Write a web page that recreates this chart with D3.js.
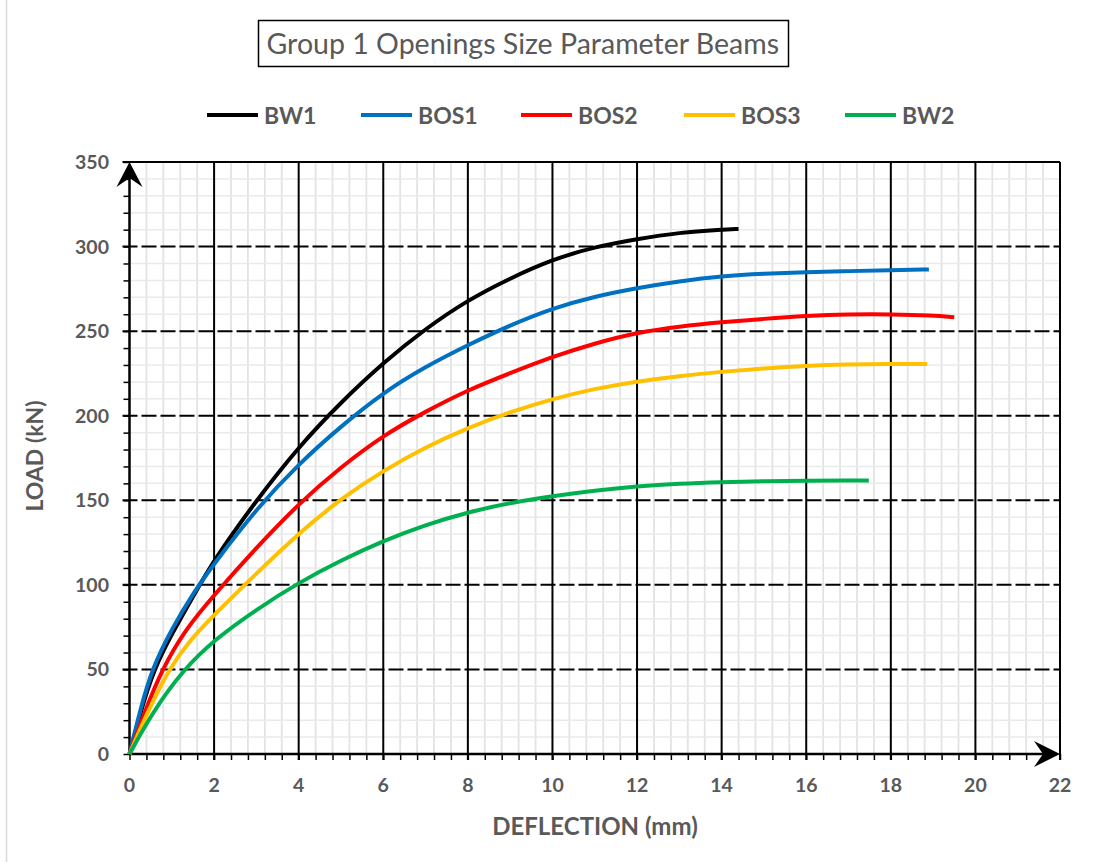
<!DOCTYPE html>
<html>
<head>
<meta charset="utf-8">
<script src="https://cdn.jsdelivr.net/npm/d3@7"></script>
<style>
  html, body { margin: 0; padding: 0; background: #fff; }
  svg { display: block; }
  text { font-family: Lato, "Open Sans", sans-serif; }
</style>
</head>
<body>
<svg id="chart" width="1099" height="862"></svg>
<script>
// Load–deflection curves, [deflection (mm), load (kN)]
const bw1 = [[0,0],[0.25,24],[0.575,50],[1,71],[1.5,93],[2,115],[3,150],[4,181.7],[5,208],[6,231.4],[7,251.5],[8,268.4],[9,281.3],[10,292.4],[11,299.8],[12,304.5],[13,308.3],[14,310],[14.4,310.4]];
const bos1 = [[0,0],[0.24,25],[0.54,51],[1,74],[1.5,95],[2,112.5],[3,145],[4,171.5],[5,193.8],[6,213.7],[7,229],[8,241.8],[9,253.5],[10,263.5],[11,270.5],[12,275.5],[13,279.5],[14,282.6],[15,284],[16,284.8],[17,285.5],[18,286.1],[18.9,286.5]];
const bos2 = [[0,0],[0.36,25],[0.77,50],[1.3,73],[2,94],[3,122],[4,148],[5,169.7],[6,188.4],[7,202.5],[8,215.2],[9,225.2],[10,234.9],[11,242.8],[12,249.2],[13,252.8],[14,255.3],[15,257.3],[16,259],[17,260],[18,260],[19,259.3],[19.5,258.2]];
const bos3 = [[0,0],[0.43,25],[0.93,50],[1.4,66.5],[2,82.2],[3,106.8],[4,130.5],[5,151],[6,167.5],[7,181.5],[8,192.9],[9,202.2],[10,209.9],[11,216],[12,220.3],[13,223.5],[14,226],[15,228],[16,229.6],[17,230.3],[18,230.6],[18.86,230.6]];
const bw2 = [[0,0],[0.55,25],[1.28,50],[2,67.4],[3,85.5],[4,101.3],[5,114.5],[6,126],[7,135.5],[8,143],[9,148.5],[10,152.5],[11,155.8],[12,158.3],[13,159.9],[14,160.8],[15,161.3],[16,161.6],[17,161.7],[17.48,161.7]];

const seriesNames = ["BW1", "BOS1", "BOS2", "BOS3", "BW2"];
const seriesData = [bw1, bos1, bos2, bos3, bw2];
const seriesColors = ["#000000", "#0070C0", "#FF0000", "#FFC000", "#00B050"];

const xTicks = [0, 2, 4, 6, 8, 10, 12, 14, 16, 18, 20, 22];
const yTicks = [0, 50, 100, 150, 200, 250, 300, 350];

const titleText = "Group 1 Openings Size Parameter Beams";
const xTitle = "DEFLECTION (mm)";
const yTitle = "LOAD (kN)";

const svg = d3.select("#chart");
const grey = "#595959";

// plot frame
const pL = 129.5, pR = 1060, pT = 162, pB = 754;
const x = d3.scaleLinear().domain([0, 22]).range([pL, pR]);
const y = d3.scaleLinear().domain([0, 350]).range([pB, pT]);

// outer chart border (left edge visible)
svg.append("line").attr("x1", 6.5).attr("x2", 6.5).attr("y1", 0).attr("y2", 862)
  .attr("stroke", "#d9d9d9").attr("stroke-width", 1.5);

// minor grid
const xMinor = d3.range(0, 22.001, 0.4).filter(v => Math.abs(v / 2 - Math.round(v / 2)) > 1e-6);
const yMinor = d3.range(0, 350.001, 10).filter(v => v % 50 !== 0);
const grid = svg.append("g");
grid.selectAll(".xm").data(xMinor).join("line")
  .attr("x1", d => x(d)).attr("x2", d => x(d)).attr("y1", pT).attr("y2", pB)
  .attr("stroke", "#e3e3e3").attr("stroke-width", 1.8);
grid.selectAll(".ym").data(yMinor).join("line")
  .attr("x1", pL).attr("x2", pR).attr("y1", d => y(d)).attr("y2", d => y(d))
  .attr("stroke", "#eaeaea").attr("stroke-width", 1.5);

// major grid: dashed horizontals, solid verticals
grid.selectAll(".yM").data(yTicks.filter(v => v > 0 && v < 350)).join("line")
  .attr("x1", pL - 7).attr("x2", pR).attr("y1", d => y(d)).attr("y2", d => y(d))
  .attr("stroke", "#000").attr("stroke-width", 2).attr("stroke-dasharray", "15,4");
grid.append("line").attr("x1", pL - 7).attr("x2", pR).attr("y1", y(350)).attr("y2", y(350))
  .attr("stroke", "#000").attr("stroke-width", 2);
grid.selectAll(".xM").data(xTicks.filter(v => v > 0)).join("line")
  .attr("x1", d => x(d)).attr("x2", d => x(d)).attr("y1", pT).attr("y2", pB + 6)
  .attr("stroke", "#000").attr("stroke-width", 2);

// axes with minor ticks
const xAxis = d3.axisBottom(x).tickValues(d3.range(0, 22.001, 0.4)).tickSize(6).tickFormat("");
const gx = svg.append("g").attr("transform", `translate(0,${pB})`).call(xAxis);
gx.select(".domain").remove();
gx.selectAll(".tick line").attr("stroke", "#000").attr("stroke-width", 1.5);

const yAxis = d3.axisLeft(y).tickValues(d3.range(0, 350.001, 10)).tickSize(6).tickFormat("");
const gy = svg.append("g").attr("transform", `translate(${pL},0)`).call(yAxis);
gy.select(".domain").remove();
gy.selectAll(".tick line").attr("stroke", "#000").attr("stroke-width", 1.5);

// tick labels
svg.append("g").selectAll("text").data(xTicks).join("text")
  .attr("x", d => x(d)).attr("y", pB + 38).attr("text-anchor", "middle")
  .attr("font-size", 19.5).attr("font-weight", 700).attr("fill", grey).text(d => d);
svg.append("g").selectAll("text").data(yTicks).join("text")
  .attr("x", 109).attr("y", d => y(d) + 7).attr("text-anchor", "end")
  .attr("font-size", 19.5).attr("font-weight", 700).attr("fill", grey).text(d => d);

// axis lines with arrowheads
svg.append("line").attr("x1", pL).attr("x2", pR - 8).attr("y1", pB).attr("y2", pB)
  .attr("stroke", "#000").attr("stroke-width", 2.5);
svg.append("line").attr("x1", pL).attr("x2", pL).attr("y1", pB).attr("y2", pT + 8)
  .attr("stroke", "#000").attr("stroke-width", 2.5);
svg.append("path")
  .attr("d", `M${pR},${pB} L${pR - 26},${pB - 13} L${pR - 17},${pB} L${pR - 26},${pB + 13} Z`)
  .attr("fill", "#000");
svg.append("path")
  .attr("d", `M${pL},${pT} L${pL - 13},${pT + 25} L${pL},${pT + 16} L${pL + 13},${pT + 25} Z`)
  .attr("fill", "#000");

// curves (smoothed through the read points)
const line = d3.line().x(d => x(d[0])).y(d => y(d[1])).curve(d3.curveBasis);
svg.append("g").selectAll("path").data(seriesData).join("path")
  .attr("d", line).attr("fill", "none")
  .attr("stroke", (d, i) => seriesColors[i]).attr("stroke-width", 4)
  .attr("stroke-linejoin", "round");

// title box
svg.append("rect").attr("x", 258.5).attr("y", 20.5).attr("width", 530).attr("height", 46)
  .attr("fill", "#fff").attr("stroke", "#000").attr("stroke-width", 1.5);
const t = svg.append("text").attr("x", 266.5).attr("y", 54).attr("font-size", 26)
  .attr("fill", grey).text(titleText);
const tw = t.node().getComputedTextLength();
t.attr("font-size", 26 * 513 / tw);

// legend
const legendX = [207, 361, 521, 684, 845];
const lg = svg.append("g").selectAll("g").data(seriesNames).join("g")
  .attr("transform", (d, i) => `translate(${legendX[i]},115)`);
lg.append("line").attr("x1", 0).attr("x2", 51).attr("y1", 0).attr("y2", 0)
  .attr("stroke", (d, i) => seriesColors[i]).attr("stroke-width", 4);
lg.append("text").attr("x", 57).attr("y", 8.5).attr("font-size", 23).attr("font-weight", 700)
  .attr("fill", grey).text(d => d);

// axis titles
svg.append("text").attr("x", 595).attr("y", 835).attr("text-anchor", "middle")
  .attr("font-size", 24).attr("font-weight", 700).attr("fill", grey).text(xTitle);
svg.append("text").attr("transform", "translate(43,456) rotate(-90)").attr("text-anchor", "middle")
  .attr("font-size", 23).attr("font-weight", 700).attr("fill", grey).text(yTitle);
</script>
</body>
</html>
